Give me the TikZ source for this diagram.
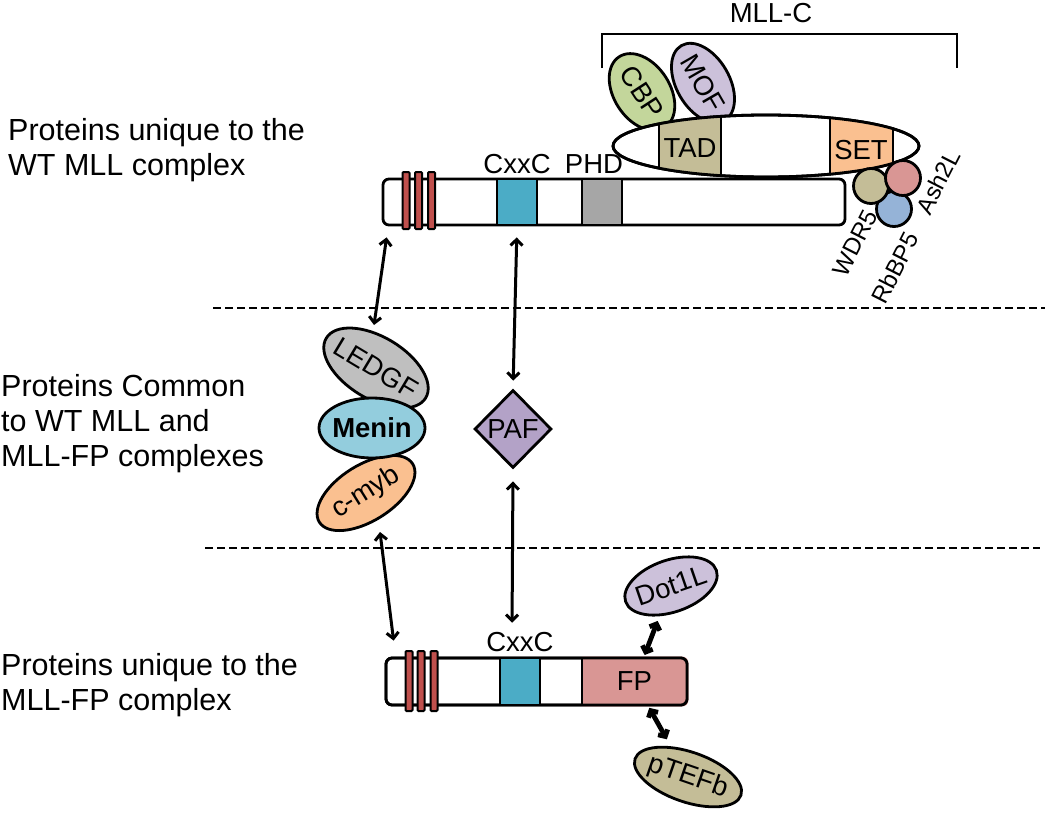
\documentclass[tikz,border=0pt]{standalone}
\usepackage{fontspec}
\setmainfont{Liberation Sans}
\usetikzlibrary{shapes.geometric,arrows.meta,calc}

\begin{document}
\begin{tikzpicture}[x=1pt,y=-1pt,
  every node/.style={inner sep=0pt},
  side/.style={align=left,anchor=north west,font=\fontsize{30.5}{35}\selectfont},
  lbl/.style={font=\fontsize{27.5}{31}\selectfont},
  tiny/.style={font=\fontsize{24}{28}\selectfont,rotate=63},
  prot/.style={ellipse,draw,line width=2.8pt,font=\fontsize{27.5}{31}\selectfont},
  bar/.style={draw,fill=white,line width=2.8pt,rounded corners=6pt},
  dom/.style={draw,line width=2.8pt,minimum width=40pt,minimum height=46pt},
  stripe/.style={draw,fill=stripecol,line width=2pt,rounded corners=1pt},
  sub/.style={circle,draw,line width=2.8pt,minimum size=35pt},
  dbl/.style={line width=3pt,arrows={Straight Barb[length=6pt,width=12pt]-Straight Barb[length=6pt,width=12pt]}},
  dblthick/.style={line width=4.8pt,arrows={Straight Barb[length=5pt,width=11pt]-Straight Barb[length=5pt,width=11pt]}},
  dashline/.style={dash pattern=on 8pt off 4pt,line width=2.6pt}]
\definecolor{stripecol}{HTML}{C0504D}
\definecolor{cxxccol}{HTML}{4BACC6}
\definecolor{phdcol}{HTML}{A6A6A6}
\definecolor{tadcol}{HTML}{C4BD97}
\definecolor{setcol}{HTML}{FAC090}
\definecolor{cbpcol}{HTML}{C3D69B}
\definecolor{mofcol}{HTML}{CCC1DA}
\definecolor{wdcol}{HTML}{C4BD97}
\definecolor{ashcol}{HTML}{D99694}
\definecolor{rbcol}{HTML}{95B3D7}
\definecolor{ledgfcol}{HTML}{BFBFBF}
\definecolor{menincol}{HTML}{93CDDD}
\definecolor{cmybcol}{HTML}{FAC090}
\definecolor{pafcol}{HTML}{B3A2C7}
\definecolor{fpcol}{HTML}{D99694}
\definecolor{dotcol}{HTML}{CCC1DA}
\definecolor{ptefbcol}{HTML}{C4BD97}
\useasboundingbox (0,0) rectangle (1050,814);

% row labels
\node[side] (wtlbl) at (8,118) {Proteins unique to the\\WT MLL complex};
\node[side] (commonlbl) at (1,374) {Proteins Common\\to WT MLL and\\MLL-FP complexes};
\node[side] (fplbl) at (1,653) {Proteins unique to the\\MLL-FP complex};

% separators
\draw[dashline] (213,308) -- (1045,308);
\draw[dashline] (205,548) -- (1040,548);

% MLL-C bracket
\draw[line width=2.8pt] (602,68) -- (602,34) -- (957,34) -- (957,68);
\node[lbl,anchor=base] (mllclbl) at (771,22) {MLL-C};

% CBP, MOF and the MLL-C body
\node[prot,fill=cbpcol,minimum width=84pt,minimum height=56pt,rotate=-57] (cbp) at (642,92) {CBP};
\node[prot,fill=mofcol,minimum width=86pt,minimum height=53pt,rotate=-60] (mof) at (703,83) {MOF};
\node[ellipse,draw,fill=white,line width=2.8pt,minimum width=306pt,minimum height=62pt] (mllc) at (766,146) {};
\begin{scope}
  \clip (766,146) ellipse [x radius=153, y radius=31];
  \fill[tadcol] (659,100) rectangle (721,190);
  \fill[setcol] (830,100) rectangle (893,190);
  \draw[line width=2.8pt] (659,100) -- (659,190) (721,100) -- (721,190)
    (830,100) -- (830,190) (893,100) -- (893,190);
\end{scope}
\draw[line width=2.8pt] (766,146) ellipse [x radius=153, y radius=31];
\node[lbl] (tad) at (690,148) {TAD};
\node[lbl] (set) at (861,150) {SET};

% WT MLL
\node[bar,minimum width=462pt,minimum height=46pt] (mll) at (614,202) {};
\foreach \x in {406,418.5,431.5}
  \draw[stripe] (\x-3.5,172) rectangle (\x+3.5,229);
\node[dom,fill=cxxccol] (cxxc) at (517,202) {};
\node[dom,fill=phdcol] (phd) at (602,202) {};
\node[lbl,above=4pt] (cxxclbl) at (cxxc.north) {CxxC};
\node[lbl,above=4pt] (phdlbl) at ([xshift=-8pt]phd.north) {PHD};

% WDR5, RbBP5, Ash2L
\node[sub,fill=rbcol] (rbbp5) at (894,209) {};
\node[sub,fill=wdcol] (wdr5) at (871,186) {};
\node[sub,fill=ashcol] (ash2l) at (903,178) {};
\node[tiny] (wdr5lbl) at (855,243) {WDR5};
\node[tiny] (rbbp5lbl) at (895,268) {RbBP5};
\node[tiny] (ash2llbl) at (938,182) {Ash2L};

% common proteins
\node[prot,fill=ledgfcol,minimum width=116pt,minimum height=62pt,inner xsep=-5pt,rotate=-31] (ledgf) at (376,368) {LEDGF};
\node[prot,fill=cmybcol,minimum width=110pt,minimum height=56pt,rotate=32] (cmyb) at (366,493) {c-myb};
\node[prot,fill=menincol,minimum width=106pt,minimum height=60pt,inner xsep=-3pt,font=\fontsize{27.5}{31}\selectfont\bfseries] (menin) at (372,428) {Menin};
\node[diamond,draw,line width=2.8pt,fill=pafcol,minimum width=77pt,minimum height=78pt,lbl] (paf) at (513,429) {PAF};

% MLL-FP
\node[bar,minimum width=301pt,minimum height=47pt] (mllfp) at (536.5,681.5) {};
\begin{scope}
  \clip[rounded corners=6pt] (mllfp.south west) rectangle (mllfp.north east);
  \fill[fpcol] (582,650) rectangle (700,712);
\end{scope}
\draw[line width=2.8pt,rounded corners=6pt] (386,658) rectangle (687,705);
\draw[line width=2.8pt] (582,658) -- (582,705);
\foreach \x in {409,421,434}
  \draw[stripe] (\x-3.5,651) rectangle (\x+3.5,711);
\node[dom,minimum height=47pt,fill=cxxccol] (cxxcfp) at (520,681.5) {};
\node[lbl,above=5pt] (cxxcfplbl) at (cxxcfp.north) {CxxC};
\node[lbl,minimum width=105pt,minimum height=47pt] (fp) at (634.5,681.5) {FP};
\node[prot,fill=dotcol,minimum width=96pt,minimum height=52pt,inner xsep=-6pt,rotate=19] (dot1l) at (671,586) {Dot1L};
\node[prot,fill=ptefbcol,minimum width=112pt,minimum height=50pt,inner xsep=-4pt,rotate=-19] (ptefb) at (688,777) {pTEFb};

% interactions
\draw[dbl] ([xshift=5pt,yshift=-11pt]mll.south west) -- ($(ledgf.center)+(-2,-43)$);
\draw[dbl,shorten <=11pt,shorten >=8pt] (cxxc.south) -- (paf.north);
\draw[dbl,shorten <=12pt,shorten >=9pt] (paf.south) -- ([xshift=-8pt]cxxcfplbl.north);
\draw[dbl] ($(cmyb.center)+(14,39)$) -- ([xshift=9pt,yshift=16pt]mllfp.north west);
\draw[dblthick,shorten <=5pt,shorten >=3pt] (dot1l) -- (fp);
\draw[dblthick,shorten <=3pt,shorten >=8pt] (fp) -- (ptefb);
\end{tikzpicture}
\end{document}
